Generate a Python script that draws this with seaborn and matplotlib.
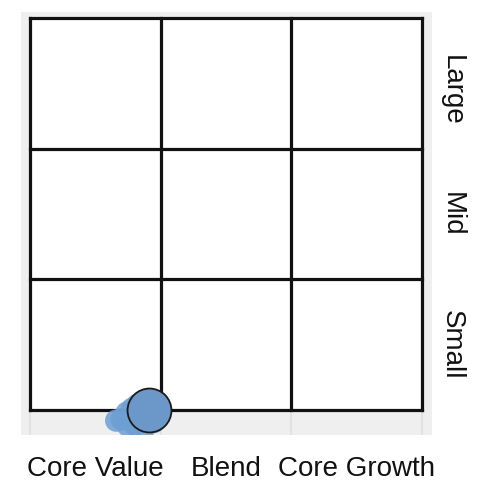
import numpy as np
import pandas as pd
import matplotlib
matplotlib.use('Agg')
import matplotlib.pyplot as plt
import seaborn as sns

# style box categories
styles = ['Core Value', 'Blend', 'Core Growth']
sizes = ['Small', 'Mid', 'Large']

# current holding position (style score, size score)
current_x = [0.91]
current_y = [0.0]

# historical positions (the smudge behind the current point)
hist_x = [0.70, 0.74, 0.80, 0.84, 0.88, 0.75, 0.82, 0.90, 0.95, 0.78, 0.66]
hist_y = [-0.07, -0.02, -0.11, -0.05, -0.13, -0.12, 0.04, -0.03, -0.09, 0.01, -0.08]

sns.set_style('white')
plt.rcParams['font.family'] = ['Liberation Sans', 'DejaVu Sans']

fig = plt.figure(figsize=(4.99, 4.99), dpi=100)
ax = fig.add_axes([21 / 499, 1 - 435 / 499, 411 / 499, 423 / 499])
ax.set_facecolor('#efefef')

ax.set_xlim(-0.069, 3.077)
ax.set_ylim(-0.19, 3.046)

# white box with the 3x3 grid
ax.add_patch(plt.Rectangle((0, 0), 3, 3, facecolor='white', edgecolor='none', zorder=1))
for v in range(4):
    ax.plot([v, v], [0, 3], color='#111111', lw=2.3, zorder=2, solid_capstyle='projecting')
    ax.plot([0, 3], [v, v], color='#111111', lw=2.3, zorder=2, solid_capstyle='projecting')
# faint guide lines in the gray band
for v in range(4):
    ax.plot([v, v], [-0.19, 0], color='#e2e2e2', lw=1.5, zorder=1)

hist = pd.DataFrame({'x': hist_x, 'y': hist_y})
sns.scatterplot(data=hist, x='x', y='y', s=260, color='#6e9fd3', edgecolor='none',
                alpha=0.85, ax=ax, zorder=3)
cur = pd.DataFrame({'x': current_x, 'y': current_y})
sns.scatterplot(data=cur, x='x', y='y', s=1000, color='#6b98c9', edgecolor='#1a1a1a',
                linewidth=1.3, ax=ax, zorder=4)

ax.set_xticks([0.5, 1.5, 2.5])
ax.set_xticklabels(styles, fontsize=20, color='#111111')
ax.set_yticks([0.5, 1.5, 2.45])
ax.set_yticklabels(sizes, fontsize=20, rotation=-90, va='center', color='#111111')
ax.yaxis.tick_right()
ax.tick_params(axis='x', length=0, pad=15)
ax.tick_params(axis='y', length=0, pad=5)
ax.set_xlabel('')
ax.set_ylabel('')
for s in ax.spines.values():
    s.set_visible(False)

fig.savefig('out.png', dpi=100)
